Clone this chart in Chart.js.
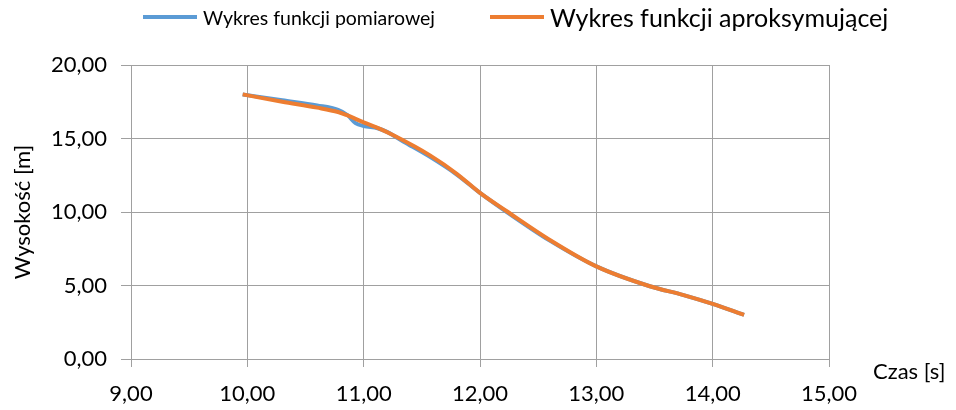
<!DOCTYPE html>
<html>
<head>
<meta charset="utf-8">
<script src="https://cdn.jsdelivr.net/npm/chart.js@4.4.1/dist/chart.umd.min.js"></script>
<style>
  body { margin: 0; background: #fff; }
  #wrap { position: relative; width: 956px; height: 410px; }
  #legend { position: absolute; left: 0; top: 0; width: 956px; height: 34px; font-family: Lato, sans-serif; color: #000; }
  .item { position: absolute; top: 0; height: 34px; display: flex; align-items: center; }
  .sw { display: inline-block; height: 4px; margin-right: 6px; }
</style>
</head>
<body>
<div id="wrap">
  <canvas id="chart" width="956" height="410"></canvas>
  <div id="legend">
    <div class="item" style="left:143px"><span class="sw" style="width:54px;background:#5B9BD5"></span><span style="font-size:19.5px">Wykres funkcji pomiarowej</span></div>
    <div class="item" style="left:490px"><span class="sw" style="width:54px;background:#ED7D31"></span><span style="font-size:25px">Wykres funkcji aproksymującej</span></div>
  </div>
</div>
<script>
// dane pomiarowe
const czasPomiar = [9.96, 10.3, 10.6, 10.78, 10.86, 10.93, 11.0, 11.12, 11.2, 11.34, 11.57, 11.8, 12.0, 12.23, 12.6, 13.0, 13.46, 13.75, 14.0, 14.27];
const wysPomiar  = [18.0, 17.6, 17.25, 16.95, 16.6, 16.05, 15.85, 15.7, 15.45, 14.8, 13.75, 12.55, 11.3, 10.0, 8.05, 6.3, 4.95, 4.35, 3.75, 3.0];

// funkcja aproksymujaca
const czasAprox = [9.96, 10.3, 10.6, 10.78, 10.85, 11.0, 11.14, 11.26, 11.57, 11.8, 12.0, 12.23, 12.6, 13.0, 13.46, 13.75, 14.0, 14.27];
const wysAprox  = [18.0, 17.5, 17.1, 16.8, 16.6, 16.1, 15.65, 15.2, 13.85, 12.6, 11.3, 10.05, 8.1, 6.3, 4.95, 4.35, 3.75, 3.0];

const xTicks = [9, 10, 11, 12, 13, 14, 15];
const yTicks = [0, 5, 10, 15, 20];

const toPts = (xs, ys) => xs.map((x, i) => ({ x: x, y: ys[i] }));
const fmt = v => Number(v).toFixed(2).replace('.', ',');
const grid = '#a0a0a0';
const font = { family: 'Lato, sans-serif', size: 22 };

const czasLabel = {
  id: 'czasLabel',
  afterDraw(chart) {
    const c = chart.ctx;
    const s = chart.scales.x;
    c.save();
    c.font = '22px Lato, sans-serif';
    c.fillStyle = '#000';
    c.textBaseline = 'middle';
    c.fillText('Czas [s]', s.right + 44, s.top + 13);
    c.restore();
  }
};

new Chart(document.getElementById('chart').getContext('2d'), {
  type: 'line',
  data: {
    datasets: [
      {
        label: 'Wykres funkcji pomiarowej',
        data: toPts(czasPomiar, wysPomiar),
        borderColor: '#5B9BD5',
        backgroundColor: '#5B9BD5',
        borderWidth: 4,
        pointRadius: 0,
        fill: false,
        cubicInterpolationMode: 'monotone',
        order: 1
      },
      {
        label: 'Wykres funkcji aproksymującej',
        data: toPts(czasAprox, wysAprox),
        borderColor: '#ED7D31',
        backgroundColor: '#ED7D31',
        borderWidth: 4,
        pointRadius: 0,
        fill: false,
        cubicInterpolationMode: 'monotone',
        order: 0
      }
    ]
  },
  options: {
    responsive: false,
    animation: false,
    layout: { padding: { top: 65, right: 127, left: 0, bottom: 0 } },
    plugins: { legend: { display: false }, tooltip: { enabled: false } },
    scales: {
      x: {
        type: 'linear',
        min: 9, max: 15,
        afterBuildTicks: s => { s.ticks = xTicks.map(v => ({ value: v })); },
        afterFit: s => { s.height = 51; },
        grid: { color: grid, lineWidth: 1, tickLength: 8, drawTicks: true },
        border: { color: grid, width: 1 },
        ticks: { color: '#000', font: font, padding: 14, maxRotation: 0, callback: v => fmt(v) }
      },
      y: {
        min: 0, max: 20,
        afterBuildTicks: s => { s.ticks = yTicks.map(v => ({ value: v })); },
        afterFit: s => { s.width = 131; },
        grid: { color: grid, lineWidth: 1, tickLength: 10, drawTicks: true },
        border: { color: grid, width: 1 },
        ticks: { color: '#000', font: font, padding: 14, callback: v => fmt(v) },
        title: { display: true, text: 'Wysokość [m]', color: '#000', font: font, padding: { top: 10, bottom: 0 } }
      }
    }
  },
  plugins: [czasLabel]
});
</script>
</body>
</html>
